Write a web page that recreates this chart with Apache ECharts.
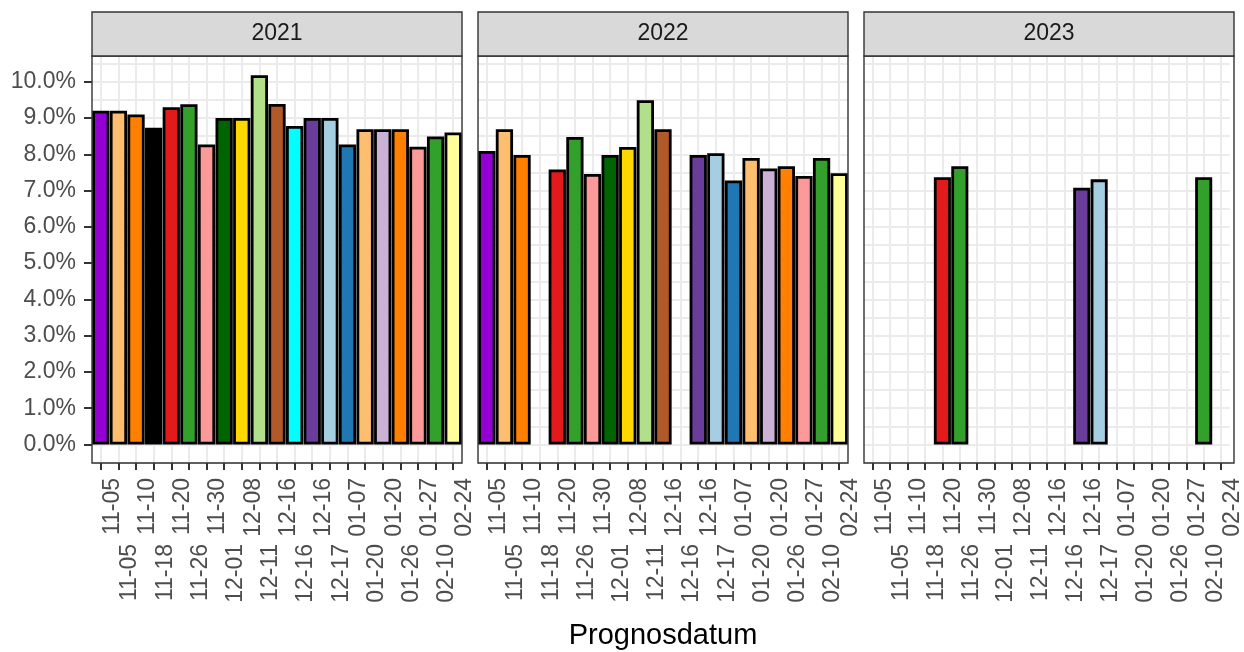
<!DOCTYPE html>
<html>
<head>
<meta charset="utf-8">
<script src="https://cdn.jsdelivr.net/npm/echarts@6/dist/echarts.min.js"></script>
<style>
html,body{margin:0;padding:0;background:#fff;}
#chart{width:1244px;height:652px;}
</style>
</head>
<body>
<div id="chart"></div>
<script>
// ---- data ----
const categories = ['11-05','11-05','11-10','11-18','11-20','11-26','11-30','12-01','12-08','12-11','12-16','12-16','12-16','12-17','01-07','01-20','01-20','01-26','01-27','02-10','02-24'];
const barColors = ['#9400D3','#FDBF6F','#FF7F00','#000000','#E31A1C','#33A02C','#FB9A99','#006400','#FFD700','#B2DF8A','#B15928','#00FFFF','#6A3D9A','#A6CEE3','#1F78B4','#FDBF6F','#CAB2D6','#FF7F00','#FB9A99','#33A02C','#FFFF99'];
const years = ['2021','2022','2023'];
const values2021 = [9.2, 9.2, 9.1, 8.73, 9.3, 9.38, 8.27, 9.0, 9.0, 10.18, 9.39, 8.78, 9.0, 9.0, 8.27, 8.69, 8.69, 8.69, 8.21, 8.49, 8.6];
const values2022 = [8.09, 8.69, 7.98, null, 7.58, 8.48, 7.46, 7.98, 8.2, 9.49, 8.69, null, 7.98, 8.03, 7.28, 7.9, 7.61, 7.67, 7.4, 7.9, 7.48];
const values2023 = [null, null, null, null, 7.37, 7.67, null, null, null, null, null, null, 7.08, 7.31, null, null, null, null, null, 7.37, null];
const yTicks = [0,1,2,3,4,5,6,7,8,9,10];
const xTitle = 'Prognosdatum';

// ---- layout ----
const panelLeft = [92, 478, 864];
const panelWidth = 370;
const panelTop = 56;
const panelHeight = 407;
const stripTop = 12;
const yMin = -0.51, yMax = 10.71;
const FONT = '"Liberation Sans", Arial, Helvetica, sans-serif';
const FS = 23;
const GRID_COLOR = '#EBEBEB';
const allValues = [values2021, values2022, values2023];

const chart = echarts.init(document.getElementById('chart'), null, {renderer: 'canvas'});

const grids = [], xAxes = [], yAxes = [], series = [], graphics = [];

years.forEach((yr, i) => {
  grids.push({
    left: panelLeft[i], top: panelTop, width: panelWidth, height: panelHeight,
    show: true, borderColor: '#333333', borderWidth: 0, backgroundColor: '#ffffff'
  });
  const labelBase = {
    rotate: 90, fontSize: FS, color: '#4D4D4D', fontFamily: FONT, verticalAlign: 'top'
  };
  // primary x axis (ticks, gridlines, first label row)
  xAxes.push({
    type: 'category', gridIndex: i, data: categories, position: 'bottom',
    axisLine: {show: false, onZero: false},
    axisTick: {show: true, interval: 0, alignWithLabel: true, length: 7, lineStyle: {color: '#333333', width: 2}},
    splitLine: {show: true, interval: 0, alignWithLabel: true, lineStyle: {color: GRID_COLOR, width: 2}},
    axisLabel: Object.assign({}, labelBase, {margin: 15, interval: (idx) => idx % 2 === 0})
  });
  // secondary x axis (second label row)
  xAxes.push({
    type: 'category', gridIndex: i, data: categories, position: 'bottom',
    axisLine: {show: false, onZero: false}, axisTick: {show: false}, splitLine: {show: false},
    axisLabel: Object.assign({}, labelBase, {margin: 81, interval: (idx) => idx % 2 === 1})
  });
  // y axis with grid lines at every 0.5
  yAxes.push({
    type: 'value', gridIndex: i, min: yMin, max: yMax, minInterval: 0.5, maxInterval: 0.5,
    axisLine: {show: false, onZero: false}, axisTick: {show: false}, axisLabel: {show: false},
    splitLine: {show: true, lineStyle: {color: GRID_COLOR, width: 2}}
  });
  const yAxisIndex = yAxes.length - 1;
  if (i === 0) {
    yAxes.push({
      type: 'value', gridIndex: i, min: yMin, max: yMax, position: 'left',
      axisLine: {show: false, onZero: false},
      axisTick: {show: true, length: 8, customValues: yTicks, lineStyle: {color: '#333333', width: 2}},
      axisLabel: {show: true, customValues: yTicks, margin: 16, fontSize: FS, color: '#4D4D4D', fontFamily: FONT,
                  formatter: (v) => v.toFixed(1) + '%'},
      splitLine: {show: false}
    });
  }
  series.push({
    type: 'bar', xAxisIndex: i * 2, yAxisIndex: yAxisIndex,
    barWidth: '98%',
    data: allValues[i].map((v, k) => ({value: v, itemStyle: {color: barColors[k]}})),
    itemStyle: {borderColor: '#000000', borderWidth: 2.8},
    z: 5
  });
  // panel border on top
  graphics.push({
    type: 'rect', shape: {x: panelLeft[i], y: panelTop, width: panelWidth, height: panelHeight},
    style: {fill: null, stroke: '#333333', lineWidth: 1.4}, z: 20, silent: true
  });
  // facet strip
  graphics.push({
    type: 'rect', shape: {x: panelLeft[i], y: stripTop, width: panelWidth, height: panelTop - stripTop},
    style: {fill: '#D9D9D9', stroke: '#333333', lineWidth: 1.4}, z: 21
  });
  graphics.push({
    type: 'text', x: panelLeft[i] + panelWidth / 2, y: (stripTop + panelTop) / 2,
    style: {text: yr, fontSize: FS, fontFamily: FONT, fill: '#1A1A1A', align: 'center', verticalAlign: 'middle'}, z: 22
  });
});

graphics.push({
  type: 'text', x: (panelLeft[0] + panelLeft[2] + panelWidth) / 2, y: 636,
  style: {text: xTitle, fontSize: 29, fontFamily: FONT, fill: '#000000', align: 'center', verticalAlign: 'middle'}, z: 22
});

chart.setOption({
  animation: false,
  backgroundColor: '#ffffff',
  textStyle: {fontFamily: FONT},
  grid: grids,
  xAxis: xAxes,
  yAxis: yAxes,
  series: series,
  graphic: graphics
});
</script>
</body>
</html>
